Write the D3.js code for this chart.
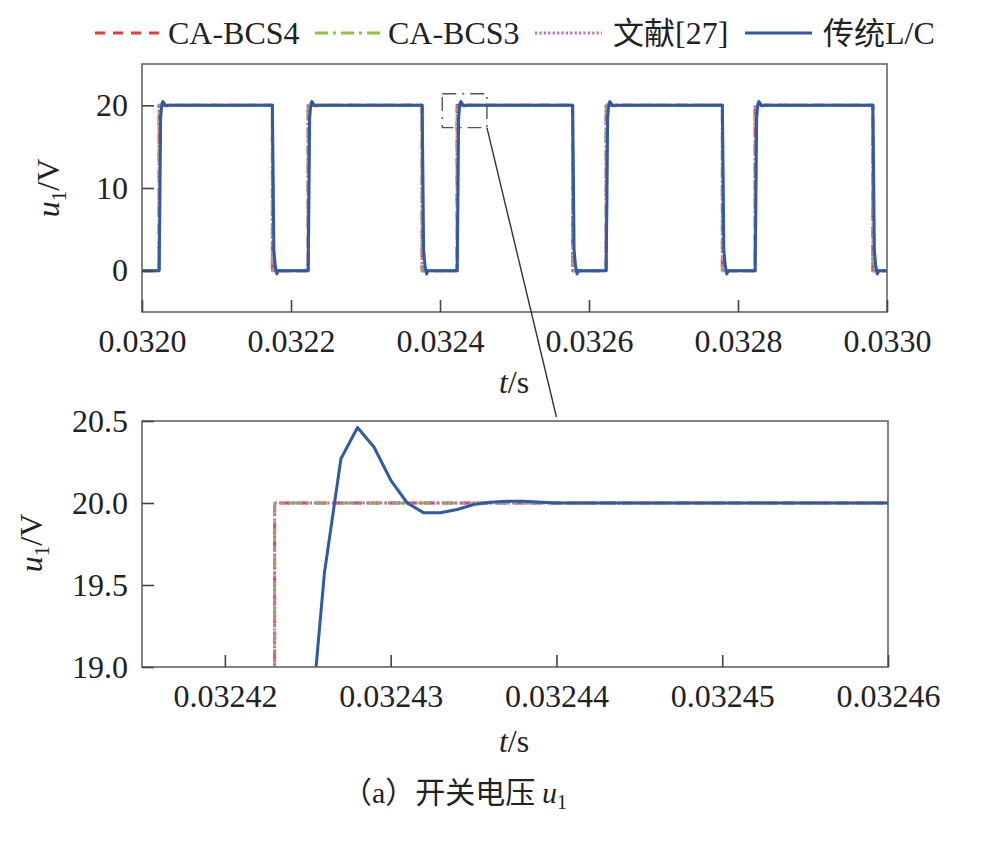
<!DOCTYPE html>
<html>
<head>
<meta charset="utf-8">
<script src="https://cdn.jsdelivr.net/npm/d3@7"></script>
<style>
  html, body { margin: 0; padding: 0; background: #fff; }
  svg { display: block; }
</style>
</head>
<body>
<svg id="chart" width="988" height="843"></svg>
<script>
// ---------------- DATA ----------------
const seriesNames = ["CA-BCS4", "CA-BCS3", "文献[27]", "传统L/C"];

// Ideal switching edges (identical for CA-BCS4, CA-BCS3, 文献[27]) : [t (s), u1 (V)]
const caBcs4Trace = [
  [0.032000,0],[0.032023,0],[0.032023,20],[0.032175,20],[0.032175,0],
  [0.032223,0],[0.032223,20],[0.032376,20],[0.032376,0],
  [0.032423,0],[0.032423,20],[0.032578,20],[0.032578,0],
  [0.032623,0],[0.032623,20],[0.032779,20],[0.032779,0],
  [0.032823,0],[0.032823,20],[0.032981,20],[0.032981,0],[0.033000,0]
];
const caBcs3Trace = [
  [0.032000,0],[0.032023,0],[0.032023,20],[0.032175,20],[0.032175,0],
  [0.032223,0],[0.032223,20],[0.032376,20],[0.032376,0],
  [0.032423,0],[0.032423,20],[0.032578,20],[0.032578,0],
  [0.032623,0],[0.032623,20],[0.032779,20],[0.032779,0],
  [0.032823,0],[0.032823,20],[0.032981,20],[0.032981,0],[0.033000,0]
];
const ref27Trace = [
  [0.032000,0],[0.032023,0],[0.032023,20],[0.032175,20],[0.032175,0],
  [0.032223,0],[0.032223,20],[0.032376,20],[0.032376,0],
  [0.032423,0],[0.032423,20],[0.032578,20],[0.032578,0],
  [0.032623,0],[0.032623,20],[0.032779,20],[0.032779,0],
  [0.032823,0],[0.032823,20],[0.032981,20],[0.032981,0],[0.033000,0]
];

// 传统L/C : [t (s), u1 (V)]
const lcTrace = [
  [0.032000,0],
  [0.032023,0],[0.032024,8],[0.032025,18.43],[0.032026,19.57],[0.032027,20.27],[0.032028,20.46],[0.032029,20.34],[0.032030,20.14],[0.032031,20.0],[0.032032,19.94],[0.032033,19.94],[0.032034,19.96],[0.032035,19.99],[0.032036,20.005],[0.032037,20.01],[0.032038,20.01],[0.032040,20.0],
  [0.032175,20.0],[0.032176,12],[0.032177,2.5],[0.032179,0.5],[0.032181,-0.4],[0.032183,0],
  [0.032223,0],[0.032224,8],[0.032225,18.43],[0.032226,19.57],[0.032227,20.27],[0.032228,20.46],[0.032229,20.34],[0.032230,20.14],[0.032231,20.0],[0.032232,19.94],[0.032233,19.94],[0.032234,19.96],[0.032235,19.99],[0.032236,20.005],[0.032237,20.01],[0.032238,20.01],[0.032240,20.0],
  [0.032376,20.0],[0.032377,12],[0.032378,2.5],[0.032380,0.5],[0.032382,-0.4],[0.032384,0],
  [0.032423,0],[0.032424,8],[0.032425,18.43],[0.032426,19.57],[0.032427,20.27],[0.032428,20.46],[0.032429,20.34],[0.032430,20.14],[0.032431,20.0],[0.032432,19.94],[0.032433,19.94],[0.032434,19.96],[0.032435,19.99],[0.032436,20.005],[0.032437,20.01],[0.032438,20.01],[0.032440,20.0],
  [0.032578,20.0],[0.032579,12],[0.032580,2.5],[0.032582,0.5],[0.032584,-0.4],[0.032586,0],
  [0.032623,0],[0.032624,8],[0.032625,18.43],[0.032626,19.57],[0.032627,20.27],[0.032628,20.46],[0.032629,20.34],[0.032630,20.14],[0.032631,20.0],[0.032632,19.94],[0.032633,19.94],[0.032634,19.96],[0.032635,19.99],[0.032636,20.005],[0.032637,20.01],[0.032638,20.01],[0.032640,20.0],
  [0.032779,20.0],[0.032780,12],[0.032781,2.5],[0.032783,0.5],[0.032785,-0.4],[0.032787,0],
  [0.032823,0],[0.032824,8],[0.032825,18.43],[0.032826,19.57],[0.032827,20.27],[0.032828,20.46],[0.032829,20.34],[0.032830,20.14],[0.032831,20.0],[0.032832,19.94],[0.032833,19.94],[0.032834,19.96],[0.032835,19.99],[0.032836,20.005],[0.032837,20.01],[0.032838,20.01],[0.032840,20.0],
  [0.032981,20.0],[0.032982,12],[0.032983,2.5],[0.032985,0.5],[0.032987,-0.4],[0.032989,0],
  [0.033000,0]
];

// Axes
const topXDomain = [0.0320, 0.0330];
const topYDomain = [-5, 25];
const topXTicks = [0.0320, 0.0322, 0.0324, 0.0326, 0.0328, 0.0330];
const topYTicks = [0, 10, 20];
const botXDomain = [0.032415, 0.03246];
const botYDomain = [19, 20.5];
const botXTicks = [0.03242, 0.03243, 0.03244, 0.03245, 0.03246];
const botYTicks = [19.0, 19.5, 20.0, 20.5];
// zoom window marked on the top plot
const zoomBoxT = [0.032403, 0.032463];
const zoomBoxV = [17.3, 21.4];

// ---------------- STYLE / LAYOUT ----------------
const colors = ["#e63a3f", "#8cc43c", "#c46cc4", "#2f5aa8"];
const dashes = ["10,8", "13,5,3,5", "2.2,2.2", null];
const widths = [3, 3, 3, 3];
const FS = 32;
const SERIF = "'Liberation Serif', 'Times New Roman', serif";
const CJK = "'Noto Sans CJK SC', sans-serif";
const INK = "#222";

const svg = d3.select("#chart");

const topBox = {x0: 142, x1: 887, y0: 64, y1: 312};
const botBox = {x0: 142, x1: 888, y0: 421, y1: 667};

const xT = d3.scaleLinear().domain(topXDomain).range([topBox.x0, topBox.x1]);
const yT = d3.scaleLinear().domain(topYDomain).range([topBox.y1, topBox.y0]);
const xB = d3.scaleLinear().domain(botXDomain).range([botBox.x0, botBox.x1]);
const yB = d3.scaleLinear().domain(botYDomain).range([botBox.y1, botBox.y0]);

const defs = svg.append("defs");
function clip(id, b) {
  defs.append("clipPath").attr("id", id).append("rect")
    .attr("x", b.x0).attr("y", b.y0).attr("width", b.x1 - b.x0).attr("height", b.y1 - b.y0);
}
clip("clipTop", topBox);
clip("clipBot", botBox);

const traces = [caBcs4Trace, caBcs3Trace, ref27Trace, lcTrace];

function serifText(sel, size) {
  return sel.style("font-family", SERIF).style("font-size", size + "px").style("fill", INK);
}

function drawPanel(x, y, box, clipId, xTicks, yTicks, xFmt, yFmt) {
  const g = svg.append("g");
  const line = d3.line().x(d => x(d[0])).y(d => y(d[1]));
  const lg = g.append("g").attr("clip-path", `url(#${clipId})`);
  traces.forEach((tr, i) => {
    lg.append("path").datum(tr)
      .attr("fill", "none")
      .attr("stroke", colors[i])
      .attr("stroke-width", widths[i])
      .attr("stroke-dasharray", dashes[i])
      .attr("stroke-linejoin", "round")
      .attr("d", line);
  });
  g.append("rect").attr("x", box.x0).attr("y", box.y0)
    .attr("width", box.x1 - box.x0).attr("height", box.y1 - box.y0)
    .attr("fill", "none").attr("stroke", "#666").attr("stroke-width", 1.6);
  const ax = g.append("g").attr("transform", `translate(0,${box.y1})`)
    .call(d3.axisBottom(x).tickValues(xTicks).tickFormat(xFmt).tickSize(-12).tickPadding(17));
  const ay = g.append("g").attr("transform", `translate(${box.x0},0)`)
    .call(d3.axisLeft(y).tickValues(yTicks).tickFormat(yFmt).tickSize(-12).tickPadding(14));
  [ax, ay].forEach(a => {
    a.select(".domain").remove();
    a.selectAll("line").attr("stroke", "#444").attr("stroke-width", 1.6);
    serifText(a.selectAll("text"), FS);
  });
  return g;
}

drawPanel(xT, yT, topBox, "clipTop", topXTicks, topYTicks, d3.format(".4f"), d3.format("d"));
drawPanel(xB, yB, botBox, "clipBot", botXTicks, botYTicks, d3.format(".5f"), d3.format(".1f"));

function xTitle(cx, by) {
  const t = serifText(svg.append("text"), FS).attr("x", cx).attr("y", by).attr("text-anchor", "middle");
  t.append("tspan").style("font-style", "italic").text("t");
  t.append("tspan").text("/s");
}
function yTitle(bx, cy) {
  const t = serifText(svg.append("text"), FS).attr("transform", `translate(${bx},${cy}) rotate(-90)`)
    .attr("text-anchor", "middle");
  t.append("tspan").style("font-style", "italic").text("u");
  t.append("tspan").style("font-size", "21px").attr("dy", 7).text("1");
  t.append("tspan").attr("dy", -7).text("/V");
}
xTitle(514, 393);
xTitle(514, 752);
yTitle(59, 188);
yTitle(42, 543);

svg.append("rect")
  .attr("x", xT(zoomBoxT[0])).attr("y", yT(zoomBoxV[1]))
  .attr("width", xT(zoomBoxT[1]) - xT(zoomBoxT[0]))
  .attr("height", yT(zoomBoxV[0]) - yT(zoomBoxV[1]))
  .attr("fill", "none").attr("stroke", "#555").attr("stroke-width", 1.4)
  .attr("stroke-dasharray", "14,6,2,6");
svg.append("line")
  .attr("x1", xT(zoomBoxT[1])).attr("y1", yT(zoomBoxV[0]))
  .attr("x2", xB(0.03244)).attr("y2", botBox.y0 - 4)
  .attr("stroke", "#333").attr("stroke-width", 1.4);

// legend
const legendItems = [
  {lx: 95, tx: 168},
  {lx: 315, tx: 388},
  {lx: 535, tx: 613},
  {lx: 745, tx: 823}
];
const lg = svg.append("g");
legendItems.forEach((it, i) => {
  lg.append("line").attr("x1", it.lx).attr("x2", it.lx + 67).attr("y1", 33).attr("y2", 33)
    .attr("stroke", colors[i]).attr("stroke-width", 3).attr("stroke-dasharray", dashes[i]);
  const t = serifText(lg.append("text"), FS).attr("x", it.tx).attr("y", 44);
  const parts = seriesNames[i].match(/[\u4e00-\u9fff]+|[^\u4e00-\u9fff]+/g);
  parts.forEach(p => {
    const sp = t.append("tspan").text(p);
    if (/[\u4e00-\u9fff]/.test(p)) sp.style("font-family", CJK).style("font-size", "31px");
  });
});

// caption
const cap = serifText(svg.append("text"), 30).attr("x", 342).attr("y", 803);
cap.append("tspan").style("font-family", CJK).text("（");
cap.append("tspan").text("a");
cap.append("tspan").style("font-family", CJK).text("）开关电压 ");
cap.append("tspan").style("font-style", "italic").text("u");
cap.append("tspan").style("font-size", "20px").attr("dy", 6).text("1");
</script>
</body>
</html>
